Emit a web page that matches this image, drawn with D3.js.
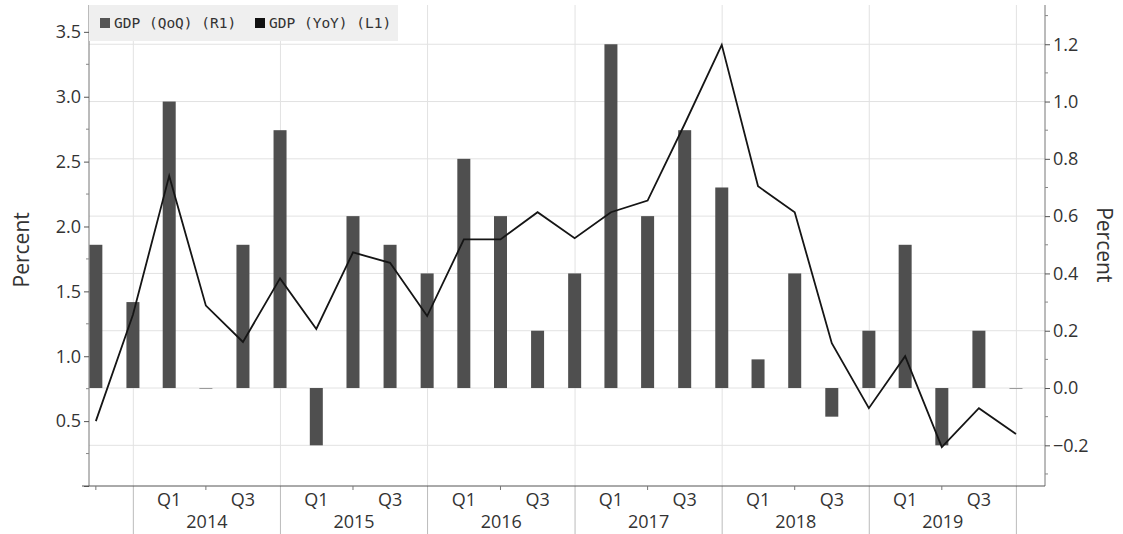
<!DOCTYPE html>
<meta charset="utf-8">
<script src="https://d3js.org/d3.v7.min.js"></script>
<style>
  body { margin: 0; background: #fff; }
  text { font-family: "Open Sans", sans-serif; fill: #333; }
  .legend text { font-family: "DejaVu Sans Mono", monospace; font-size: 14.5px; fill: #333; }
</style>
<body>
<div id="viz"></div>
<script>

// quarter end dates (Bloomberg plots each quarter at its end)
const quarters = ["2013-09-30","2013-12-31",
  "2014-03-31","2014-06-30","2014-09-30","2014-12-31",
  "2015-03-31","2015-06-30","2015-09-30","2015-12-31",
  "2016-03-31","2016-06-30","2016-09-30","2016-12-31",
  "2017-03-31","2017-06-30","2017-09-30","2017-12-31",
  "2018-03-31","2018-06-30","2018-09-30","2018-12-31",
  "2019-03-31","2019-06-30","2019-09-30","2019-12-31"];

// GDP QoQ (right axis, bars)
const qoq = [0.5, 0.3, 1.0, 0.0, 0.5, 0.9, -0.2, 0.6, 0.5, 0.4, 0.8, 0.6, 0.2,
             0.4, 1.2, 0.6, 0.9, 0.7, 0.1, 0.4, -0.1, 0.2, 0.5, -0.2, 0.2, 0.0];

// GDP YoY (left axis, line)
const yoy = [0.5, 1.32, 2.39, 1.39, 1.11, 1.60, 1.21, 1.80, 1.72, 1.31, 1.90, 1.90, 2.11,
             1.91, 2.11, 2.20, 2.79, 3.40, 2.31, 2.11, 1.10, 0.60, 1.00, 0.30, 0.60, 0.40];

const years = ["2014", "2015", "2016", "2017", "2018", "2019"];
const leftTicks = [0.5, 1.0, 1.5, 2.0, 2.5, 3.0, 3.5];
const rightTicks = [-0.2, 0.0, 0.2, 0.4, 0.6, 0.8, 1.0, 1.2];

const margin = {top: 5, right: 78, bottom: 48, left: 89},
    width = 1123 - margin.left - margin.right,
    height = 534 - margin.top - margin.bottom;

const parse = d3.timeParse("%Y-%m-%d");
const data = quarters.map((q, i) => ({date: parse(q), qoq: qoq[i], yoy: yoy[i]}));

const svg = d3.select("#viz")
  .append("svg")
    .attr("width", width + margin.left + margin.right)
    .attr("height", height + margin.top + margin.bottom)
  .append("g")
    .attr("transform", `translate(${margin.left}, ${margin.top})`);

const x = d3.scaleTime()
  .domain([new Date(2013, 8, 13), new Date(2020, 2, 12)])
  .range([0, width]);

const yL = d3.scaleLinear().domain([0, 3.707]).range([height, 0]);
const yR = d3.scaleLinear().domain([-0.342, 1.337]).range([height, 0]);

// horizontal gridlines follow the right axis
svg.append("g").selectAll("line")
  .data(rightTicks)
  .join("line")
    .attr("x1", 0).attr("x2", width)
    .attr("y1", d => yR(d)).attr("y2", d => yR(d))
    .attr("stroke", "#e2e2e2");

// year boundaries (grid above, separators below the axis)
const bounds = years.map(y => new Date(+y, 0, 1)).concat([new Date(2020, 0, 1)]);
svg.append("g").selectAll("line")
  .data(bounds)
  .join("line")
    .attr("x1", d => x(d)).attr("x2", d => x(d))
    .attr("y1", 0).attr("y2", height)
    .attr("stroke", "#e2e2e2");
svg.append("g").selectAll("line")
  .data(bounds)
  .join("line")
    .attr("x1", d => x(d)).attr("x2", d => x(d))
    .attr("y1", height).attr("y2", height + margin.bottom)
    .attr("stroke", "#bbb");

// bars
const barW = 13;
svg.append("g").selectAll("rect")
  .data(data)
  .join("rect")
    .attr("x", d => x(d.date) - barW / 2)
    .attr("y", d => Math.min(yR(d.qoq), yR(0)))
    .attr("width", barW)
    .attr("height", d => Math.max(1, Math.abs(yR(d.qoq) - yR(0))))
    .attr("fill", d => d.qoq === 0 ? "#999" : "#4f4f4f");

// line
svg.append("path")
  .datum(data)
  .attr("fill", "none")
  .attr("stroke", "#151515")
  .attr("stroke-width", 1.8)
  .attr("stroke-linejoin", "miter")
  .attr("d", d3.line()
    .x(d => x(d.date))
    .y(d => yL(d.yoy)));

// left axis
const axL = svg.append("g")
  .call(d3.axisLeft(yL).tickValues([0].concat(leftTicks)).tickFormat(d => d === 0 ? "" : d.toFixed(1)).tickSize(5).tickPadding(3));
axL.selectAll(".tick text").style("font-size", "18px").attr("fill", "#333");
axL.append("g").selectAll("line")
  .data(leftTicks.map(d => d - 0.25))
  .join("line")
    .attr("x1", 0).attr("x2", -3)
    .attr("y1", d => yL(d)).attr("y2", d => yL(d))
    .attr("stroke", "#888");

// right axis
const axR = svg.append("g")
  .attr("transform", `translate(${width}, 0)`)
  .call(d3.axisRight(yR).tickValues(rightTicks).tickFormat(d3.format(".1f")).tickSize(5).tickPadding(3));
axR.selectAll(".tick text").style("font-size", "18px").attr("fill", "#333");
axR.append("g").selectAll("line")
  .data(rightTicks.map(d => d - 0.1).concat([1.3]))
  .join("line")
    .attr("x1", 0).attr("x2", 3)
    .attr("y1", d => yR(d)).attr("y2", d => yR(d))
    .attr("stroke", "#888");

[axL, axR].forEach(a => {
  a.select(".domain").attr("stroke", "#777");
  a.selectAll(".tick line").attr("stroke", "#555");
});
axR.select(".domain").attr("d", `M0,0V${height}`);
axL.select(".domain").attr("d", `M0,0V${height}`);

// bottom axis
svg.append("line")
  .attr("x1", -7).attr("x2", width)
  .attr("y1", height).attr("y2", height)
  .attr("stroke", "#555");

const qLabel = d => {
  const m = d.date.getMonth();
  if (d.date.getFullYear() < 2014) return "";
  return m === 2 ? "Q1" : m === 8 ? "Q3" : "";
};
svg.append("g").selectAll("line")
  .data(data.filter(d => qLabel(d) === "" && d.date.getMonth() !== 11))
  .join("line")
    .attr("x1", d => x(d.date)).attr("x2", d => x(d.date))
    .attr("y1", height).attr("y2", height + 4)
    .attr("stroke", "#777");
svg.append("g").selectAll("text")
  .data(data.filter(d => qLabel(d) !== ""))
  .join("text")
    .attr("x", d => x(d.date))
    .attr("y", height + 20)
    .attr("text-anchor", "middle")
    .style("font-size", "18px")
    .text(qLabel);
svg.append("g").selectAll("text")
  .data(years)
  .join("text")
    .attr("x", d => (x(new Date(+d, 0, 1)) + x(new Date(+d + 1, 0, 1))) / 2)
    .attr("y", height + 42)
    .attr("text-anchor", "middle")
    .style("font-size", "18px")
    .text(d => d);

// axis titles
svg.append("text")
  .attr("transform", `translate(${-60}, ${yL(1.82)}) rotate(-90)`)
  .attr("text-anchor", "middle")
  .style("font-size", "21px")
  .text("Percent");
svg.append("text")
  .attr("transform", `translate(${width + 52}, ${yR(0.5)}) rotate(90)`)
  .attr("text-anchor", "middle")
  .style("font-size", "21px")
  .text("Percent");

// legend
const legend = svg.append("g").attr("class", "legend");
legend.append("rect").attr("x", 0).attr("y", 0).attr("width", 309).attr("height", 36).attr("fill", "#efefef");
legend.append("rect").attr("x", 11).attr("y", 13).attr("width", 10).attr("height", 10).attr("fill", "#555");
legend.append("text").attr("x", 25).attr("y", 23).text("GDP (QoQ) (R1)");
legend.append("rect").attr("x", 166).attr("y", 13).attr("width", 10).attr("height", 10).attr("fill", "#111");
legend.append("text").attr("x", 180).attr("y", 23).text("GDP (YoY) (L1)");

</script>
</body>
